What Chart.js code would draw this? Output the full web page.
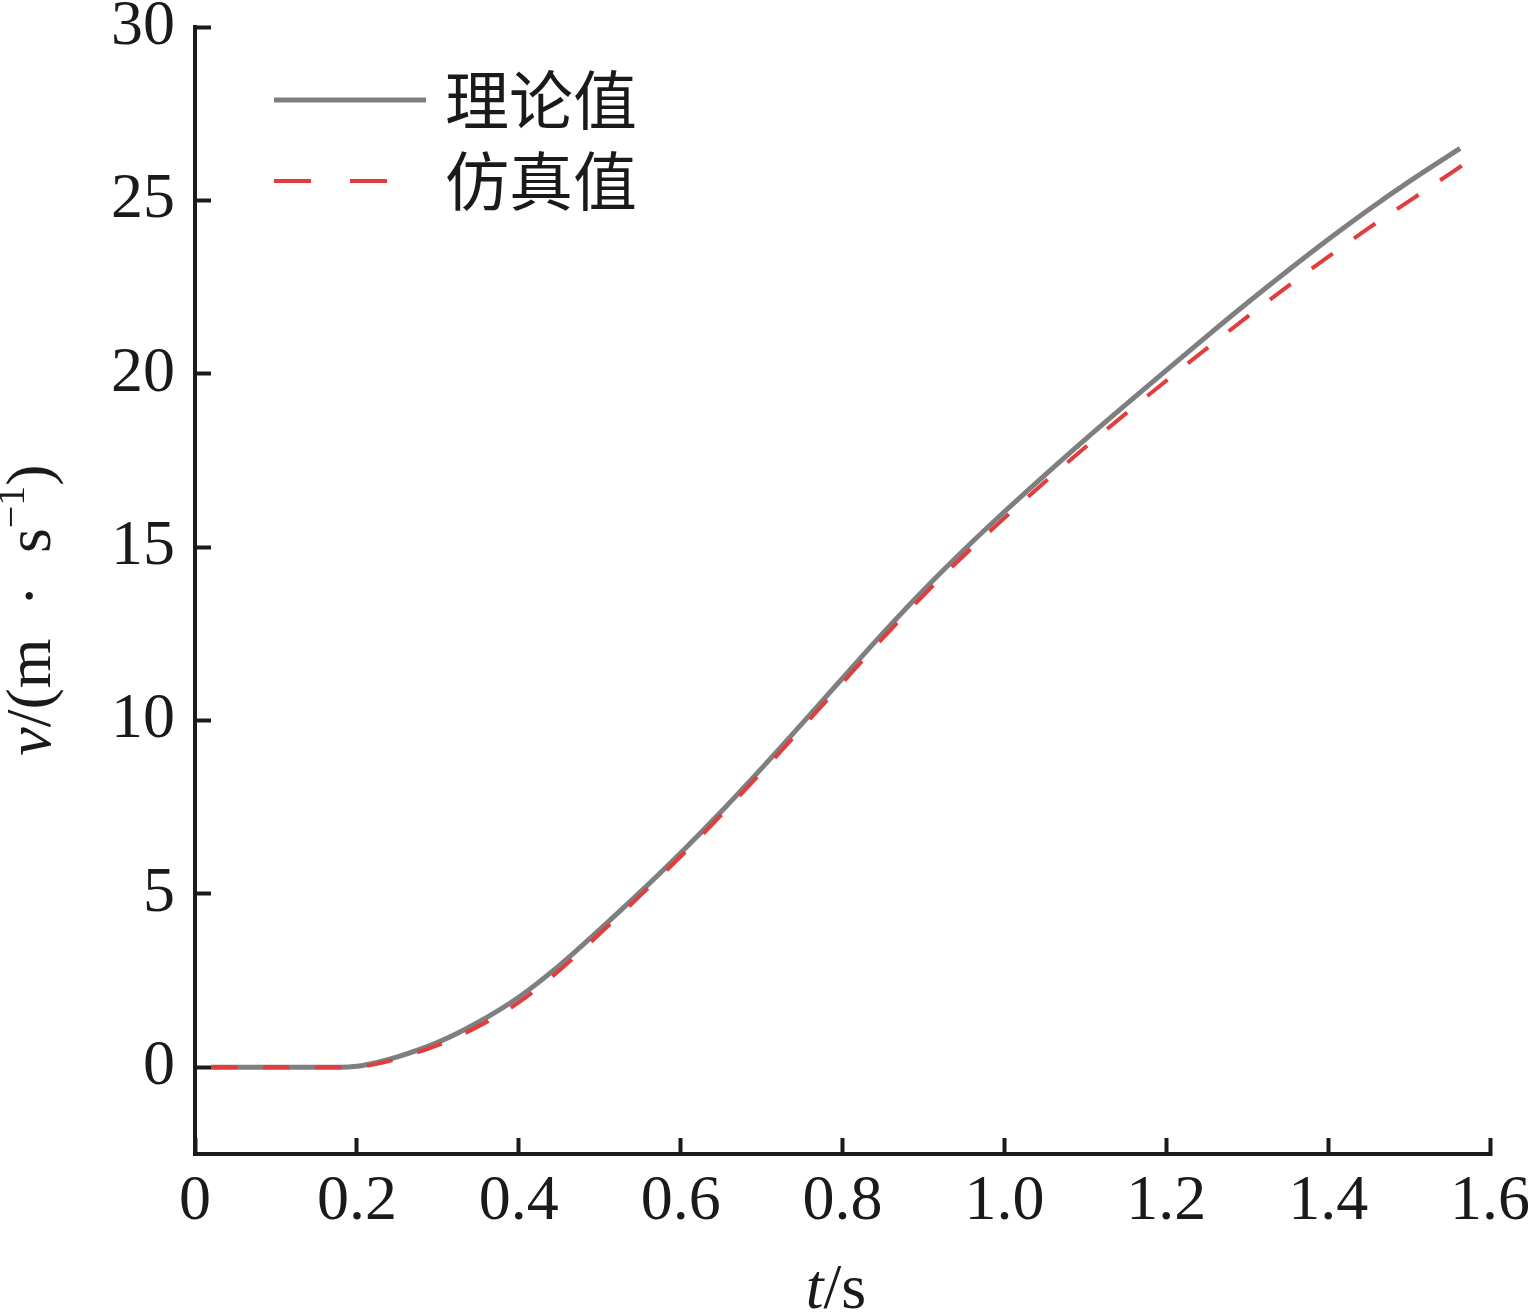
<!DOCTYPE html>
<html>
<head>
  <meta charset="UTF-8">
  <title>v-t</title>
  <script src="https://cdn.jsdelivr.net/npm/chart.js"></script>
  <style>
    body { margin: 0; background: #fff; }
    canvas { display: block; }
  </style>
</head>
<body>
  <canvas id="vChart" width="1528" height="1313"></canvas>

  <script>
    const seriesNames = ['理论值', '仿真值'];

    const tTheory = [0.02, 0.05, 0.1, 0.15, 0.18, 0.2, 0.225, 0.25, 0.3, 0.35, 0.4, 0.45, 0.5, 0.55, 0.6, 0.65, 0.7, 0.75, 0.8, 0.85,
      0.9, 0.95, 1.0, 1.05, 1.1, 1.15, 1.2, 1.25, 1.3, 1.35, 1.4, 1.45, 1.5, 1.563];
    const vTheory = [0, 0, 0, 0, 0, 0.03, 0.14, 0.3, 0.72, 1.3, 2.02, 2.93, 3.97, 5.05, 6.18, 7.37, 8.62, 9.91, 11.22, 12.52,
      13.76, 14.92, 16.02, 17.08, 18.11, 19.11, 20.1, 21.08, 22.04, 22.97, 23.87, 24.73, 25.54, 26.5];

    const tSim = [0.02, 0.05, 0.1, 0.15, 0.18, 0.2, 0.225, 0.25, 0.3, 0.35, 0.4, 0.45, 0.5, 0.55, 0.6, 0.65, 0.7, 0.75, 0.8, 0.85,
      0.9, 0.95, 1.0, 1.05, 1.1, 1.15, 1.2, 1.25, 1.3, 1.35, 1.4, 1.45, 1.5, 1.578];
    const vSim = [0, 0, 0, 0, 0, 0.01, 0.1, 0.25, 0.64, 1.18, 1.87, 2.79, 3.85, 4.95, 6.08, 7.27, 8.51, 9.79, 11.09, 12.38,
      13.61, 14.76, 15.84, 16.88, 17.88, 18.85, 19.8, 20.73, 21.64, 22.52, 23.37, 24.2, 24.98, 26.2];

    const xTicks = [0, 0.2, 0.4, 0.6, 0.8, 1.0, 1.2, 1.4, 1.6];
    const xTickLabels = ['0', '0.2', '0.4', '0.6', '0.8', '1.0', '1.2', '1.4', '1.6'];
    const yTicks = [0, 5, 10, 15, 20, 25, 30];

    const serif = "'Liberation Serif', 'Times New Roman', serif";
    const ink = '#1a1a1a';

    // legend: line sample + label, stacked in the top left corner of the plot
    const sideLegend = {
      id: 'sideLegend',
      afterDraw(chart) {
        const ctx = chart.ctx;
        chart.data.datasets.forEach((ds, i) => {
          const y = 100 + i * 81;
          ctx.save();
          ctx.strokeStyle = ds.borderColor;
          ctx.lineWidth = ds.borderWidth;
          ctx.setLineDash(ds.borderDash ? [37, 39] : []);
          ctx.beginPath();
          ctx.moveTo(274, y);
          ctx.lineTo(426, y);
          ctx.stroke();
          ctx.setLineDash([]);
          ctx.fillStyle = ink;
          ctx.font = "64px 'Noto Sans CJK SC'";
          ctx.textBaseline = 'middle';
          ctx.fillText(ds.label, 445, y);
          ctx.restore();
        });
      }
    };

    // axis titles need an italic letter and a superscript, so they are drawn in runs
    function drawRuns(ctx, runs, cx, y) {
      let total = 0;
      runs.forEach(r => { ctx.font = r.font; r.w = ctx.measureText(r.text).width; total += r.w; });
      let x = cx - total / 2;
      runs.forEach(r => {
        ctx.font = r.font;
        ctx.fillText(r.text, x, y + (r.dy || 0));
        x += r.w;
      });
    }

    const axisTitles = {
      id: 'axisTitles',
      afterDraw(chart) {
        const ctx = chart.ctx;
        ctx.save();
        ctx.fillStyle = ink;
        ctx.textBaseline = 'alphabetic';
        drawRuns(ctx, [
          { text: 't', font: 'italic 64px ' + serif },
          { text: '/s', font: '64px ' + serif }
        ], 836, 1308);

        ctx.translate(50, 610);
        ctx.rotate(-Math.PI / 2);
        drawRuns(ctx, [
          { text: 'v', font: 'italic 64px ' + serif },
          { text: '/(m\u2002\u00b7\u2002s', font: '64px ' + serif },
          { text: '\u22121', font: '40px ' + serif, dy: -26 },
          { text: ')', font: '64px ' + serif }
        ], 0, 0);
        ctx.restore();
      }
    };

    const ctx = document.getElementById('vChart').getContext('2d');

    new Chart(ctx, {
      type: 'line',
      data: {
        datasets: [
          {
            label: seriesNames[0],
            data: tTheory.map((t, i) => ({ x: t, y: vTheory[i] })),
            borderColor: '#7f7f7f',
            borderWidth: 5,
            pointRadius: 0,
            cubicInterpolationMode: 'monotone',
            order: 1
          },
          {
            label: seriesNames[1],
            data: tSim.map((t, i) => ({ x: t, y: vSim[i] })),
            borderColor: '#e23c3c',
            borderWidth: 4,
            borderDash: [26, 26],
            pointRadius: 0,
            cubicInterpolationMode: 'monotone',
            order: 0
          }
        ]
      },
      options: {
        responsive: false,
        animation: false,
        layout: { padding: { left: 0, top: 27, right: 38, bottom: 0 } },
        plugins: {
          legend: { display: false },
          tooltip: { enabled: false }
        },
        scales: {
          x: {
            type: 'linear',
            min: 0,
            max: 1.6,
            afterBuildTicks: s => { s.ticks = xTicks.map(v => ({ value: v })); },
            afterFit: s => { s.height = 159; s.paddingLeft = 0; s.paddingRight = 0; },
            ticks: {
              callback: (v, i) => xTickLabels[i],
              font: { family: serif, size: 64 },
              color: ink,
              padding: 26,
              maxRotation: 0,
              autoSkip: false
            },
            grid: { drawOnChartArea: false, tickLength: -16, tickWidth: 4, tickColor: ink },
            border: { width: 4, color: ink }
          },
          y: {
            min: -2.5,
            max: 30,
            afterBuildTicks: s => { s.ticks = yTicks.map(v => ({ value: v })); },
            afterFit: s => { s.width = 195; s.paddingTop = 0; s.paddingBottom = 0; },
            ticks: {
              font: { family: serif, size: 64, lineHeight: 0.8 },
              color: ink,
              padding: 36,
              autoSkip: false
            },
            grid: { drawOnChartArea: false, tickLength: -16, tickWidth: 4, tickColor: ink },
            border: { width: 4, color: ink }
          }
        }
      },
      plugins: [sideLegend, axisTitles]
    });
  </script>
</body>
</html>
